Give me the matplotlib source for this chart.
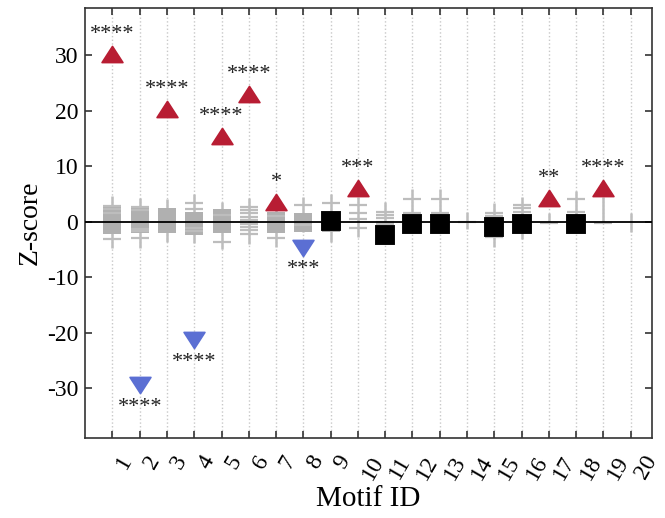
import numpy as np
import matplotlib
matplotlib.use("Agg")
import matplotlib.pyplot as plt
import matplotlib.transforms as mtransforms
from matplotlib.path import Path

plt.rcParams['font.family'] = ['Liberation Serif', 'DejaVu Serif']
plt.rcParams['axes.unicode_minus'] = False

# === data ===
motif_ids = list(range(1, 21))
zscore = [30.1, -29.5, 20.2, -21.3, 15.5, 22.9, 3.6, -4.7, 0.1, 6.1,
          -2.4, -0.45, -0.45, np.nan, -1.0, -0.36, 4.3, -0.45, 6.1, np.nan]
signif = ['****', '****', '****', '****', '****', '****', '*', '***', '', '***',
          '', '', '', '', '', '', '**', '', '****', '']

# z-scores of randomised networks (grey dashes), box and whisker ranges
null_dashes = [
    [2.9, 2.3, 1.6, -3.2],
    [2.7, 2.1, -1.4, -1.7, -2.9],
    [],
    [3.4, 2.2, -1.1, -1.7],
    [1.2, -3.6],
    [2.7, 2.1, 1.5, 0.9, 0.3, -0.4, -1.0, -1.6, -2.3],
    [1.0, -2.9],
    [3.0, 0.0, -0.7],
    [3.4],
    [3.0, 1.6, 0.4, -1.1],
    [1.8, 1.2, 0.7, 0.0, -0.5],
    [4.1, 1.6],
    [4.1, 1.6],
    [0.0],
    [1.6, 1.0, -2.7],
    [3.0, 2.5, 1.8],
    [-0.2],
    [4.1, 1.8],
    [-0.2],
    [],
]
box_lo = [-2.3, -2.0, -2.0, -2.5, -2.0, np.nan, -2.0, -1.8, -1.8, np.nan,
          np.nan, np.nan, np.nan, np.nan, np.nan, np.nan, np.nan, np.nan, np.nan, np.nan]
box_hi = [3.0, 2.7, 2.5, 1.8, 2.3, np.nan, 1.8, 1.6, 1.6, np.nan,
          np.nan, np.nan, np.nan, np.nan, np.nan, np.nan, np.nan, np.nan, np.nan, np.nan]
whisk_lo = [-4.7, -4.7, -3.6, -3.8, -5.0, -4.1, -4.5, -1.8, -3.6, -2.7,
            -0.5, 0.0, 0.0, -1.4, -4.5, -3.2, -0.2, 0.0, -0.2, -1.8]
whisk_hi = [4.7, 4.3, 4.0, 5.0, 3.6, 4.3, 3.0, 4.5, 4.9, 4.5,
            3.6, 5.8, 5.8, 1.8, 3.4, 4.5, 1.6, 5.6, 4.5, 1.6]

red = '#b81d33'
blue = '#5b6fd3'
grey_box = '#b0b0b0'
grey_line = '#bdbdbd'

tri_up = Path([(-1, -0.775), (1, -0.775), (0, 0.775), (-1, -0.775)],
              [Path.MOVETO, Path.LINETO, Path.LINETO, Path.CLOSEPOLY])
tri_dn = Path([(-1, 0.775), (1, 0.775), (0, -0.775), (-1, 0.775)],
              [Path.MOVETO, Path.LINETO, Path.LINETO, Path.CLOSEPOLY])

fig = plt.figure(figsize=(6.65, 5.18), dpi=100)
ax = fig.add_axes([0.128, 0.154, 0.852, 0.831])

half = 0.33

# 灰色：随机网络
ax.vlines(motif_ids, whisk_lo, whisk_hi, color=grey_line, lw=1.8, zorder=1)
box_h = np.array(box_hi) - np.array(box_lo)
ax.bar(motif_ids, box_h, bottom=box_lo, width=2 * half, color=grey_box,
       edgecolor='none', zorder=1.5)
for x, vals in zip(motif_ids, null_dashes):
    if vals:
        ax.hlines(vals, x - half, x + half, color=grey_line, lw=1.6, zorder=2)

ax.axhline(0, color='black', lw=1.3, zorder=3)

# 真实网络 z-score
for x, z, s in zip(motif_ids, zscore, signif):
    if np.isnan(z):
        continue
    if s and z > 0:
        ax.plot(x, z, marker=tri_up, ms=15, color=red, mec=red, mew=1.2, zorder=4)
        ax.annotate(s, (x, z), xytext=(0, 14), textcoords='offset points',
                    ha='center', va='center', fontsize=16, color='#222222')
    elif s:
        ax.plot(x, z, marker=tri_dn, ms=15, color=blue, mec=blue, mew=1.2, zorder=4)
        ax.annotate(s, (x, z), xytext=(0, -16), textcoords='offset points',
                    ha='center', va='center', fontsize=16, color='#222222')
    else:
        ax.plot(x, z, marker='s', ms=11.5, color='black', mec='black', mew=2.8,
                zorder=4)

ax.set_xlim(0, 20.77)
ax.set_ylim(-39, 38.5)
ax.set_xticks(motif_ids)
ax.set_xticklabels([str(m) for m in motif_ids], rotation=60, ha='left', va='top',
                   fontsize=17)
shift = mtransforms.ScaledTranslation(-4 / 72, 0, fig.dpi_scale_trans)
for lab in ax.get_xticklabels():
    lab.set_transform(lab.get_transform() + shift)
ax.set_yticks([-30, -20, -10, 0, 10, 20, 30])
ax.tick_params(axis='y', labelsize=17)
ax.tick_params(direction='in', top=True, right=True, length=5, width=1.2,
               color='#333333', pad=5)
ax.tick_params(axis='x', pad=10)
ax.xaxis.grid(True, linestyle=':', color='#c8c8c8', lw=1.0)
ax.set_axisbelow(True)
for sp in ax.spines.values():
    sp.set_linewidth(1.2)
    sp.set_color('#333333')

ax.set_ylabel('Z-score', fontsize=20, labelpad=3)
ax.set_xlabel('Motif ID', fontsize=21, labelpad=2)

plt.savefig('out.png', dpi=100)
